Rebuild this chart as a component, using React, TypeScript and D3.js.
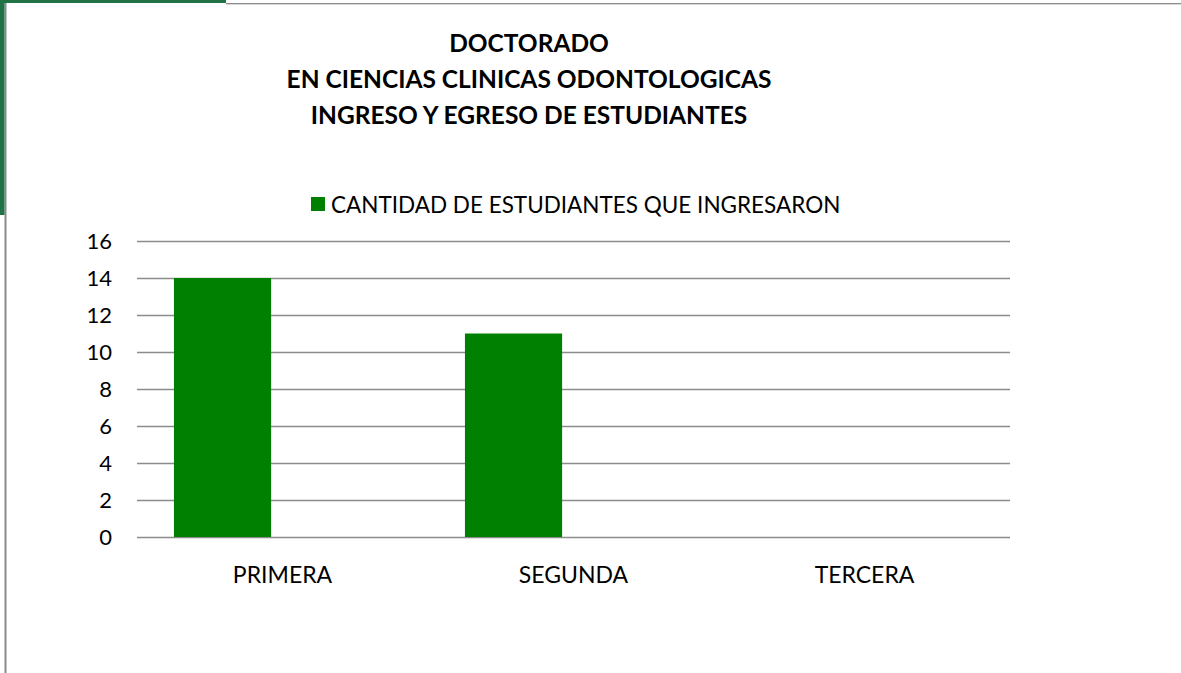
import React, { useEffect, useRef } from 'react';
import * as d3 from 'd3';

// --- Data ---
const categories = ['PRIMERA', 'SEGUNDA', 'TERCERA'];
const ingresaron = [14, 11, 0];
// second slot of each group is empty in the original (no legend entry)
const egresaron = [0, 0, 0];
const seriesKeys = ['ingresaron', 'egresaron'];
const yTicks = [0, 2, 4, 6, 8, 10, 12, 14, 16];
const titleLines = [
  'DOCTORADO',
  'EN CIENCIAS CLINICAS ODONTOLOGICAS',
  'INGRESO Y EGRESO DE ESTUDIANTES',
];
const legendLabel = 'CANTIDAD DE ESTUDIANTES QUE INGRESARON';

const App = () => {
  const svgRef = useRef<SVGSVGElement>(null);

  useEffect(() => {
    const width = 1181;
    const height = 673;
    const marginTop = 241;
    const marginBottom = 136;
    const marginLeft = 137;
    const marginRight = 171;
    const font = "Lato, 'Open Sans', sans-serif";

    const svg = d3.select(svgRef.current);
    svg.selectAll('*').remove();
    svg
      .attr('width', width)
      .attr('height', height)
      .style('font-family', font)
      .style('background', '#fff');

    // --- Frame (green tab + gray border) ---
    svg.append('line').attr('x1', 5.5).attr('x2', 5.5).attr('y1', 0).attr('y2', height)
      .attr('stroke', '#8a8a8a').attr('stroke-width', 2);
    svg.append('line').attr('x1', 226).attr('x2', width).attr('y1', 3.5).attr('y2', 3.5)
      .attr('stroke', '#8a8a8a').attr('stroke-width', 1);
    svg.append('line').attr('x1', 226).attr('x2', width).attr('y1', 4.5).attr('y2', 4.5)
      .attr('stroke', '#d9d9d9').attr('stroke-width', 1);
    svg.append('rect').attr('x', 0).attr('y', 0).attr('width', 4.5).attr('height', 215).attr('fill', '#217346');
    svg.append('rect').attr('x', 0).attr('y', 0).attr('width', 226).attr('height', 3).attr('fill', '#217346');

    // --- Scales ---
    const x = d3.scaleBand<string>()
      .domain(categories)
      .range([marginLeft, width - marginRight])
      .padding(0);

    const x1 = d3.scaleBand<string>()
      .domain(seriesKeys)
      .range([0, x.bandwidth()])
      .paddingInner(0.19)
      .paddingOuter(0.308);

    const y = d3.scaleLinear()
      .domain([0, 16])
      .range([height - marginBottom, marginTop]);

    // --- Gridlines ---
    svg.append('g')
      .selectAll('line')
      .data(yTicks)
      .join('line')
      .attr('x1', marginLeft)
      .attr('x2', width - marginRight)
      .attr('y1', d => Math.round(y(d)) + 0.5)
      .attr('y2', d => Math.round(y(d)) + 0.5)
      .attr('stroke', '#8c8c8c')
      .attr('stroke-width', 1.4);

    // --- Y labels ---
    svg.append('g')
      .selectAll('text')
      .data(yTicks)
      .join('text')
      .attr('x', 112)
      .attr('y', d => y(d))
      .attr('dy', '0.36em')
      .attr('text-anchor', 'end')
      .attr('fill', '#000')
      .style('font-size', '22px')
      .text(d => d);

    // --- Bars ---
    const data = categories.map((c, i) => ({ cat: c, ingresaron: ingresaron[i], egresaron: egresaron[i] }));
    svg.append('g')
      .selectAll('g')
      .data(data)
      .join('g')
      .attr('transform', d => `translate(${x(d.cat)},0)`)
      .selectAll('rect')
      .data(d => seriesKeys.map(k => ({ key: k, value: (d as any)[k] as number })))
      .join('rect')
      .filter(d => d.value > 0)
      .attr('x', d => x1(d.key)!)
      .attr('y', d => y(d.value))
      .attr('width', x1.bandwidth())
      .attr('height', d => y(0) - y(d.value))
      .attr('fill', '#008000');

    // --- X labels ---
    svg.append('g')
      .selectAll('text')
      .data(categories)
      .join('text')
      .attr('x', d => x(d)! + x.bandwidth() / 2)
      .attr('y', 583)
      .attr('text-anchor', 'middle')
      .attr('fill', '#000')
      .style('font-size', '23px')
      .text(d => d);

    // --- Title ---
    svg.append('g')
      .selectAll('text')
      .data(titleLines)
      .join('text')
      .attr('x', 529)
      .attr('y', (d, i) => 52 + i * 36)
      .attr('text-anchor', 'middle')
      .attr('fill', '#000')
      .style('font-size', '24.5px')
      .style('font-weight', 'bold')
      .text(d => d);

    // --- Legend ---
    const legend = svg.append('g');
    legend.append('rect')
      .attr('x', 311).attr('y', 197).attr('width', 14).attr('height', 14)
      .attr('fill', '#008000');
    legend.append('text')
      .attr('x', 331).attr('y', 213)
      .attr('fill', '#000')
      .style('font-size', '22.5px')
      .text(legendLabel);
  }, []);

  return <svg ref={svgRef} style={{ position: 'absolute', left: 0, top: 0, display: 'block' }}></svg>;
};

export default App;
